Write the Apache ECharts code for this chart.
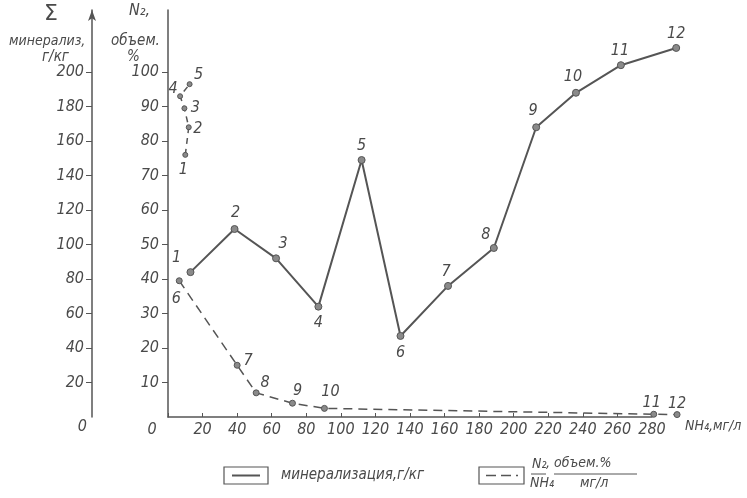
<!DOCTYPE html>
<html><head><meta charset="utf-8">
<script src="https://cdn.jsdelivr.net/npm/echarts@6/dist/echarts.min.js"></script>
<style>html,body{margin:0;padding:0;background:#fff}#c{width:747px;height:498px}</style>
</head><body><div id="c"></div>
<script>
// ---- data ----
var xTicks = [0,20,40,60,80,100,120,140,160,180,200,220,240,260,280];
var n2Ticks = [0,10,20,30,40,50,60,70,80,90,100];
var sumTicks = [0,20,40,60,80,100,120,140,160,180,200];
// mineralization (solid), g/kg vs NH4 mg/l
var minerNum = ['1','2','3','4','5','6','7','8','9','10','11','12'];
var minerX = [13, 38.5, 62.5, 87, 112, 134.5, 162, 188.5, 213, 236, 262, 294];
var minerY = [84, 109, 92, 64, 149, 47, 76, 98, 168, 188, 204, 214];
// N2 vol.% (dashed), first group 1-5, second group 6-12
var n2NumA = ['1','2','3','4','5'];
var n2XA = [10, 12, 9.5, 7, 12.5];
var n2YA = [76, 84, 89.5, 93, 96.5];
var n2NumB = ['6','7','8','9','10','11','12'];
var n2XB = [6.5, 40, 51, 72, 90.5, 281, 294.5];
var n2YB = [39.5, 15, 7, 4, 2.5, 0.8, 0.7];

// ---- style ----
var FONT = "'Liberation Sans Narrow','DejaVu Sans Condensed','Roboto',sans-serif";
var INK = '#555';
var TXT = '#4a4a4a';
var minerOff = [[-14,-14],[1,-16],[7,-14],[0,16],[0,-14],[0,17],[-2,-14],[-8,-13],[-3,-16],[-3,-16],[-1,-14],[0,-14]];
var n2OffA = [[-2,15],[9,2],[11,0],[-7,-7],[9,-9]];
var n2OffB = [[-3,18],[11,-4],[9,-10],[5,-12],[6,-17],[-2,-11],[0,-11]];

var X_MAX = 280, X_EXT = 300, N2_MAX = 118, SUM_MAX = 236;
var GL = 168, GR = 95, GT = 10, GB = 81;
var plotW = 747 - GL - GR;
var extRight = 747 - GL - plotW * X_EXT / X_MAX;

function pts(xs, ys, nums, offs){
  return xs.map(function(x,i){
    return {value:[x, ys[i]], name: nums[i], label:{offset: offs[i]}};
  });
}
var labelStyle = {show:true, position:'inside', formatter:'{b}', fontFamily:FONT, fontStyle:'italic', fontSize:16, color:TXT};
var markStyle = {color:'#8a8a8a', borderColor:'#555', borderWidth:1};
var axFont = {fontFamily:FONT, fontStyle:'italic', fontSize:16, color:TXT};

var chart = echarts.init(document.getElementById('c'), null, {renderer:'canvas'});
chart.setOption({
  backgroundColor:'#fff',
  animation:false,
  grid:[
    {left:GL, right:GR, top:GT, bottom:GB},
    {left:GL, right:extRight, top:GT, bottom:GB}
  ],
  xAxis:[
    {
      gridIndex:0, type:'value', min:0, max:X_MAX, interval:20,
      axisLine:{lineStyle:{color:INK, width:1.5}},
      axisTick:{inside:true, length:4, lineStyle:{color:INK}},
      splitLine:{show:false},
      axisLabel:Object.assign({
        margin:5,
        formatter:function(v){ return v===0 ? '{z|0}' : String(v); },
        rich:{z:Object.assign({padding:[0,32,0,0]}, axFont)}
      }, axFont)
    },
    {gridIndex:1, type:'value', min:0, max:X_EXT, show:false}
  ],
  yAxis:[
    { // N2, vol %
      gridIndex:0, type:'value', min:0, max:N2_MAX, position:'left', offset:0,
      axisLine:{show:true, lineStyle:{color:INK, width:1.5}},
      axisTick:{show:true, length:6, customValues:n2Ticks.slice(1), lineStyle:{color:INK}},
      splitLine:{show:false},
      axisLabel:Object.assign({margin:9, customValues:n2Ticks.slice(1)}, axFont)
    },
    { // Sigma mineralization
      gridIndex:0, type:'value', min:0, max:SUM_MAX, position:'left', offset:76,
      axisLine:{show:true, symbol:['none','arrow'], symbolSize:[6,11], lineStyle:{color:INK, width:1.5}},
      axisTick:{show:true, length:6, customValues:sumTicks.slice(1), lineStyle:{color:INK}},
      splitLine:{show:false},
      axisLabel:Object.assign({margin:5, customValues:sumTicks,
        formatter:function(v){ return v===0 ? '{z|0}' : '{n|' + v + '}'; },
        rich:{z:Object.assign({padding:[20,0,0,0]}, axFont), n:Object.assign({padding:[0,3,0,0]}, axFont)}
      }, axFont)
    },
    {gridIndex:1, type:'value', min:0, max:N2_MAX, show:false},
    {gridIndex:1, type:'value', min:0, max:SUM_MAX, show:false}
  ],
  series:[
    {type:'line', xAxisIndex:1, yAxisIndex:3, data:pts(minerX, minerY, minerNum, minerOff),
      symbol:'circle', symbolSize:7, itemStyle:markStyle,
      lineStyle:{color:INK, width:2}, label:labelStyle},
    {type:'line', xAxisIndex:1, yAxisIndex:2, data:pts(n2XA, n2YA, n2NumA, n2OffA),
      symbol:'circle', symbolSize:5, itemStyle:markStyle,
      lineStyle:{color:INK, width:1.5, type:[6,5]}, label:labelStyle},
    {type:'line', xAxisIndex:1, yAxisIndex:2, data:pts(n2XB, n2YB, n2NumB, n2OffB),
      symbol:'circle', symbolSize:6, itemStyle:markStyle,
      lineStyle:{color:INK, width:1.5, type:[9,6]}, label:labelStyle}
  ],
  graphic:[
    {type:'text', left:44, top:3, style:{text:'Σ', fontSize:22, fill:TXT, fontFamily:'DejaVu Sans'}},
    {type:'text', left:9, top:34, style:{text:'минерализ,', fontSize:14, fontStyle:'italic', fill:TXT, fontFamily:FONT}},
    {type:'text', left:42, top:50, style:{text:'г/кг', fontSize:15, fontStyle:'italic', fill:TXT, fontFamily:FONT}},
    {type:'text', left:129, top:3, style:{text:'N₂,', fontSize:16, fontStyle:'italic', fill:TXT, fontFamily:FONT}},
    {type:'text', left:111, top:34, style:{text:'объем.', fontSize:15, fontStyle:'italic', fill:TXT, fontFamily:FONT}},
    {type:'text', left:127, top:50, style:{text:'%', fontSize:15, fontStyle:'italic', fill:TXT, fontFamily:FONT}},
    {type:'text', left:685, top:419, style:{text:'NH₄,мг/л', fontSize:14, fontStyle:'italic', fill:TXT, fontFamily:FONT}},
    // legend
    {type:'rect', shape:{x:224, y:467, width:44, height:17}, style:{fill:'none', stroke:INK, lineWidth:1.2}},
    {type:'line', shape:{x1:232, y1:475.5, x2:260, y2:475.5}, style:{stroke:INK, lineWidth:2}},
    {type:'text', left:281, top:468, style:{text:'минерализация,г/кг', fontSize:15, fontStyle:'italic', fill:TXT, fontFamily:FONT}},
    {type:'rect', shape:{x:479, y:467, width:45, height:17}, style:{fill:'none', stroke:INK, lineWidth:1.2}},
    {type:'line', shape:{x1:486, y1:475.5, x2:518, y2:475.5}, style:{stroke:INK, lineWidth:1.5, lineDash:[10,5]}},
    {type:'text', left:532, top:457, style:{text:'N₂', fontSize:14, fontStyle:'italic', fill:TXT, fontFamily:FONT}},
    {type:'line', shape:{x1:531, y1:474, x2:546, y2:474}, style:{stroke:INK, lineWidth:1}},
    {type:'text', left:530, top:476, style:{text:'NH₄', fontSize:14, fontStyle:'italic', fill:TXT, fontFamily:FONT}},
    {type:'text', left:546, top:456, style:{text:', объем.%', fontSize:14, fontStyle:'italic', fill:TXT, fontFamily:FONT}},
    {type:'line', shape:{x1:554, y1:474, x2:637, y2:474}, style:{stroke:INK, lineWidth:1}},
    {type:'text', left:580, top:476, style:{text:'мг/л', fontSize:14, fontStyle:'italic', fill:TXT, fontFamily:FONT}}
  ]
});
</script></body></html>
